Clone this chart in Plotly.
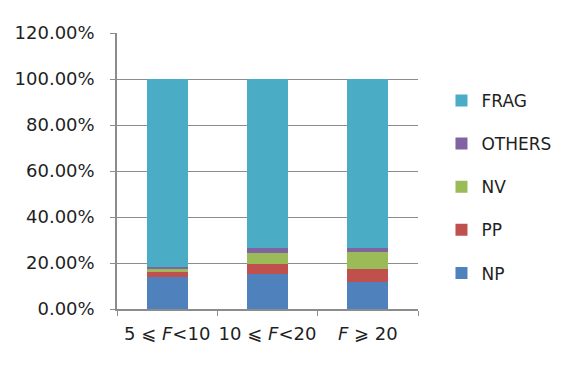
import plotly.graph_objects as go

categories = ["5 ⩽ <i>F</i><10", "10 ⩽ <i>F</i><20", "<i>F</i> ⩾ 20"]
series_names = ["NP", "PP", "NV", "OTHERS", "FRAG"]
np_vals = [13.8, 15.3, 11.6]
pp_vals = [2.3, 4.3, 5.8]
nv_vals = [1.6, 4.8, 7.2]
others_vals = [0.5, 2.0, 1.8]
frag_vals = [81.8, 73.6, 73.6]
colors = ["#4F81BD", "#C0504D", "#9BBB59", "#8064A2", "#4BACC6"]
legend_ranks = [5, 4, 3, 2, 1]
y_ticks = [0, 20, 40, 60, 80, 100, 120]
y_tick_labels = ["0.00%", "20.00%", "40.00%", "60.00%", "80.00%", "100.00%", "120.00%"]

values = [np_vals, pp_vals, nv_vals, others_vals, frag_vals]

fig = go.Figure()
for name, vals, col, rk in zip(series_names, values, colors, legend_ranks):
    fig.add_trace(go.Bar(x=categories, y=vals, name=name, marker_color=col,
                         marker_line_width=0, legendgroup=name, legendrank=rk))

font_family = "DejaVu Sans"
fig.update_layout(
    width=566, height=367,
    barmode="stack", bargap=0.59,
    paper_bgcolor="white", plot_bgcolor="white",
    margin=dict(l=117, r=148, t=33, b=58, autoexpand=False),
    font=dict(family=font_family, size=18, color="#1F1F1F"),
    legend=dict(x=1.078, y=0.819, xanchor="left", yanchor="top",
                traceorder="grouped", tracegroupgap=18,
                font=dict(size=17), itemwidth=30),
    showlegend=True,
)
fig.update_yaxes(range=[0, 120], tickvals=y_ticks, ticktext=y_tick_labels,
                 showgrid=True, gridcolor="#8C8C8C", gridwidth=1.3,
                 showline=True, linecolor="#8C8C8C", linewidth=1.5,
                 ticks="outside", ticklen=5, tickcolor="#8C8C8C", ticklabelstandoff=12,
                 zeroline=False)
fig.update_xaxes(showline=True, linecolor="#8C8C8C", linewidth=1.5,
                 ticks="outside", ticklen=5, tickcolor="#8C8C8C", tickson="boundaries",
                 tickangle=0, ticklabelstandoff=8)

fig.write_html("out.html")
